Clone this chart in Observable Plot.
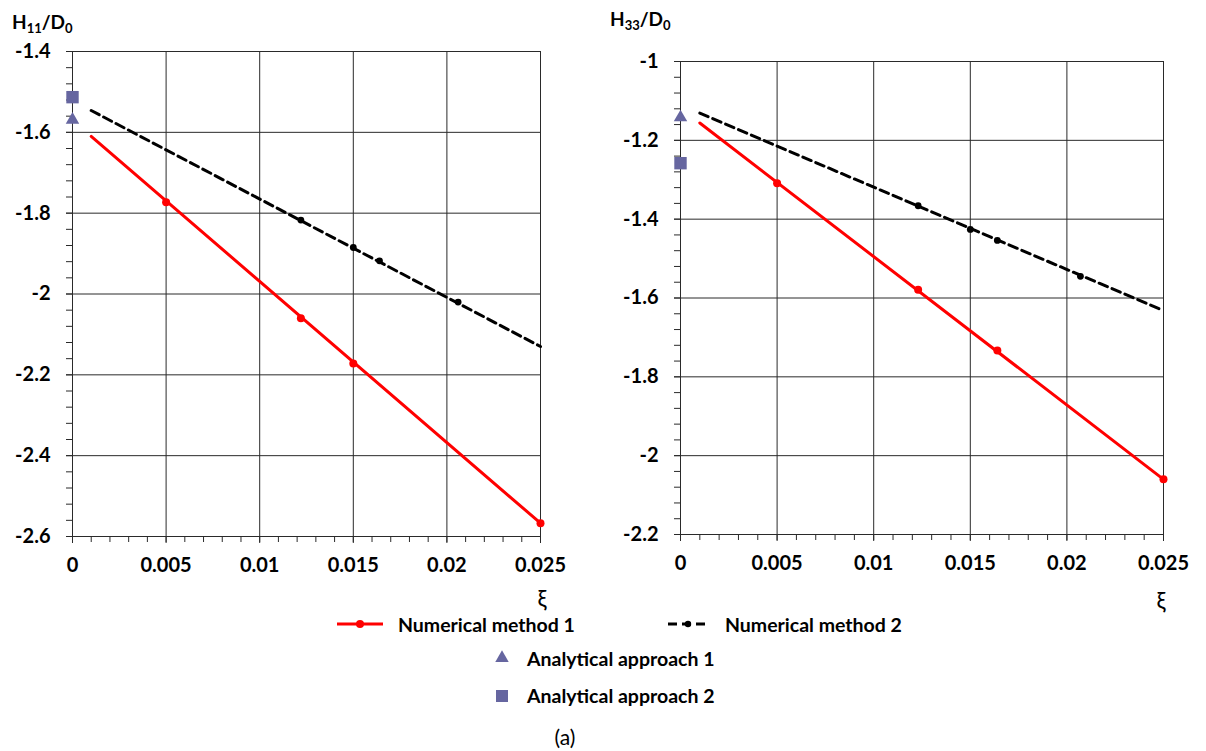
<!DOCTYPE html>
<html><head><meta charset="utf-8">
<script src="https://cdn.jsdelivr.net/npm/d3@7"></script>
<script src="https://cdn.jsdelivr.net/npm/@observablehq/plot@0.6"></script>
<style>
body{margin:0;background:#fff;}
#wrap{position:relative;width:1206px;height:751px;font-family:Lato,"Open Sans",sans-serif;color:#000;overflow:hidden;}
.abs{position:absolute;white-space:nowrap;line-height:1;}
.ylab{font-weight:bold;font-size:19px;}
.ylab sub{font-size:13px;vertical-align:-4px;line-height:0;}
.xlab{font-size:23px;transform:translate(-50%,-50%);}
.leg{font-weight:bold;font-size:19.5px;transform:translateY(-50%);}
</style></head><body><div id="wrap"></div>
<script>
// ---- data ----
const xiTicks = [0, 0.005, 0.01, 0.015, 0.02, 0.025];
const h11Ticks = [-1.4, -1.6, -1.8, -2, -2.2, -2.4, -2.6];
const h33Ticks = [-1, -1.2, -1.4, -1.6, -1.8, -2, -2.2];
const seriesNames = ["Numerical method 1", "Numerical method 2", "Analytical approach 1", "Analytical approach 2"];

// fitted line extent (xi)
const lineXi = [0.001, 0.025];

// H11/D0
const h11Num1Line = [-1.61, -2.567];
const h11Num1Xi = [0.005, 0.0122, 0.015, 0.025];
const h11Num1 = [-1.773, -2.06, -2.172, -2.567];
const h11Num2Line = [-1.546, -2.13];
const h11Num2Xi = [0.0122, 0.015, 0.0164, 0.0206];
const h11Num2 = [-1.817, -1.885, -1.918, -2.02];
const h11Ana1 = [-1.569];
const h11Ana2 = [-1.513];

// H33/D0
const h33Num1Line = [-1.156, -2.06];
const h33Num1Xi = [0.005, 0.0123, 0.0164, 0.025];
const h33Num1 = [-1.309, -1.579, -1.733, -2.06];
const h33Num2Line = [-1.131, -1.632];
const h33Num2Xi = [0.0123, 0.015, 0.0164, 0.0207];
const h33Num2 = [-1.366, -1.426, -1.454, -1.545];
const h33Ana1 = [-1.142];
const h33Ana2 = [-1.258];
const anaXi = [0];

const RED = "#ff0000", PURPLE = "#6666a0", GRID = "#2a2a2a";

function minor(lo, hi, step) {
  const out = [];
  const n = Math.round((hi - lo) / step);
  for (let i = 0; i <= n; i++) out.push(+(lo + i * step).toFixed(6));
  return out;
}

function panel(o) {
  const yMin = Math.min(...o.yTicks), yMax = Math.max(...o.yTicks);
  const fmt = d => String(d);
  return Plot.plot({
    width: o.width, height: 600,
    marginLeft: o.ml, marginRight: o.mr, marginTop: o.mt, marginBottom: o.mb,
    x: {domain: [0, 0.025], label: null},
    y: {domain: [yMin, yMax], label: null},
    style: {fontFamily: "Lato, 'Open Sans', sans-serif", fontSize: "20px", fontWeight: "bold", color: "#000", background: "transparent", overflow: "visible"},
    marks: [
      Plot.gridX(xiTicks, {stroke: GRID, strokeOpacity: 1, strokeWidth: 1}),
      Plot.gridY(o.yTicks, {stroke: GRID, strokeOpacity: 1, strokeWidth: 1}),
      Plot.axisX(minor(0, 0.025, 0.001), {tickSize: 6, tickFormat: () => "", stroke: GRID}),
      Plot.axisY(minor(yMin, yMax, 0.04), {tickSize: 6, tickFormat: () => "", stroke: GRID}),
      Plot.axisX(xiTicks, {tickSize: 7, tickPadding: 14, tickFormat: fmt, stroke: GRID}),
      Plot.axisY(o.yTicks, {tickSize: 6, tickPadding: 16, tickFormat: fmt, stroke: GRID}),
      Plot.line({length: 2}, {x: lineXi, y: o.num2Line, stroke: "#000", strokeWidth: 3, strokeDasharray: "9,5"}),
      Plot.dot({length: o.num2.length}, {x: o.num2Xi, y: o.num2, r: 3.4, fill: "#000"}),
      Plot.line({length: 2}, {x: lineXi, y: o.num1Line, stroke: RED, strokeWidth: 3}),
      Plot.dot({length: o.num1.length}, {x: o.num1Xi, y: o.num1, r: 4, fill: RED}),
      Plot.dot({length: 1}, {x: anaXi, y: o.ana1, symbol: "triangle", r: 5, fill: PURPLE}),
      Plot.dot({length: 1}, {x: anaXi, y: o.ana2, symbol: "square", r: 7, fill: PURPLE})
    ]
  });
}

const wrap = document.getElementById("wrap");
function place(el, left, top) {
  el.style.position = "absolute"; el.style.left = left + "px"; el.style.top = top + "px"; wrap.appendChild(el); return el;
}
function add(el, cls, left, top) {
  el.className = cls; return place(el, left, top);
}

const p1 = panel({width: 600, ml: 72, mr: 60, mt: 51, mb: 64, yTicks: h11Ticks,
  num1Line: h11Num1Line, num1Xi: h11Num1Xi, num1: h11Num1,
  num2Line: h11Num2Line, num2Xi: h11Num2Xi, num2: h11Num2, ana1: h11Ana1, ana2: h11Ana2});
place(p1, 0, 0);
const p2 = panel({width: 606, ml: 80, mr: 43, mt: 61, mb: 66, yTicks: h33Ticks,
  num1Line: h33Num1Line, num1Xi: h33Num1Xi, num1: h33Num1,
  num2Line: h33Num2Line, num2Xi: h33Num2Xi, num2: h33Num2, ana1: h33Ana1, ana2: h33Ana2});
place(p2, 600, 0);

// axis titles
const t1 = document.createElement("div"); t1.innerHTML = "H<sub>11</sub>/D<sub>0</sub>"; add(t1, "abs ylab", 12, 12);
const t2 = document.createElement("div"); t2.innerHTML = "H<sub>33</sub>/D<sub>0</sub>"; add(t2, "abs ylab", 610, 9);
const x1 = document.createElement("div"); x1.textContent = "ξ"; add(x1, "abs xlab", 542, 598);
const x2 = document.createElement("div"); x2.textContent = "ξ"; add(x2, "abs xlab", 1161, 600);

// legend
const ns = "http://www.w3.org/2000/svg";
const leg = document.createElementNS(ns, "svg");
leg.setAttribute("width", 1206); leg.setAttribute("height", 751);
leg.style.position = "absolute"; leg.style.left = "0"; leg.style.top = "0"; leg.style.pointerEvents = "none";
leg.innerHTML = `
 <line x1="337" x2="383" y1="624" y2="624" stroke="${RED}" stroke-width="3"/>
 <circle cx="360" cy="624" r="4" fill="${RED}"/>
 <line x1="668" x2="709" y1="624" y2="624" stroke="#000" stroke-width="3" stroke-dasharray="9,5"/>
 <circle cx="688" cy="624" r="3.2" fill="#000"/>
 <path d="${d3.symbol(d3.symbolTriangle, Math.PI * 25)()}" transform="translate(502,658)" fill="${PURPLE}"/>
 <rect x="496" y="690" width="12" height="12" fill="${PURPLE}"/>`;
wrap.appendChild(leg);
const l1 = document.createElement("div"); l1.textContent = seriesNames[0]; add(l1, "abs leg", 398, 625);
const l2 = document.createElement("div"); l2.textContent = seriesNames[1]; add(l2, "abs leg", 725, 625);
const l3 = document.createElement("div"); l3.textContent = seriesNames[2]; add(l3, "abs leg", 527, 659);
const l4 = document.createElement("div"); l4.textContent = seriesNames[3]; add(l4, "abs leg", 527, 696);
const cap = document.createElement("div"); cap.textContent = "(a)"; cap.style.fontSize = "21px"; cap.style.transform = "translate(-50%,-50%)"; add(cap, "abs", 565, 736);
</script></body></html>
